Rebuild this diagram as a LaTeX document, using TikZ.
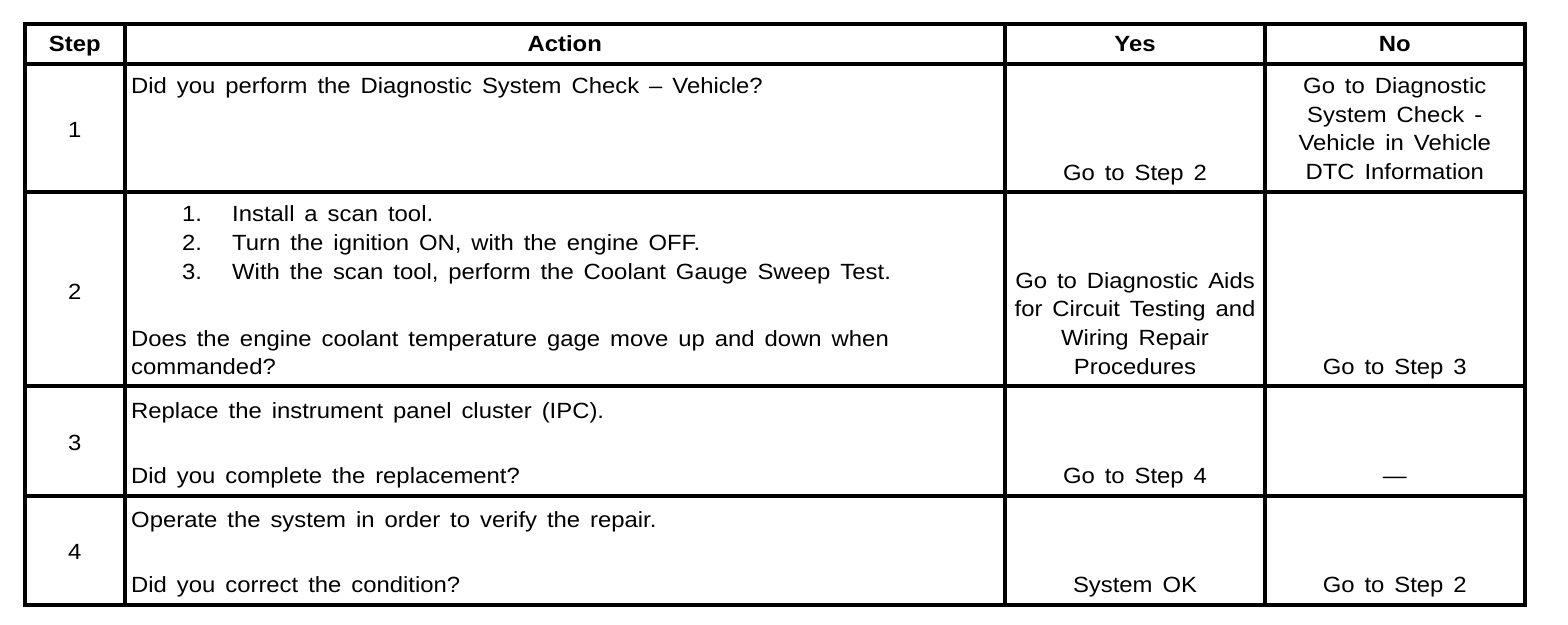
\documentclass[tikz,border=0pt]{standalone}
\usepackage{fontspec}
\setmainfont{Liberation Sans}[FakeStretch=1.085,WordSpace=1.5]
\begin{document}
\begin{tikzpicture}[x=1pt,y=-1pt,
  txt/.style={inner sep=0pt,font=\fontsize{22}{28.6}\selectfont},
  lft/.style={txt,anchor=base west},
  ctr/.style={txt,anchor=base,align=center},
  hdr/.style={txt,anchor=base,font=\fontsize{22}{28.6}\selectfont\bfseries},
  rule/.style={line width=4pt,line cap=rect}]
\useasboundingbox (0,0) rectangle (1568,624);
% grid coordinates
\coordinate (tl) at (25,24);
\coordinate (br) at (1524.5,605);
% horizontal rules
\foreach \y in {63.5,192,386,496}{\draw[rule] (25,\y) -- (1524.5,\y);}
% vertical rules
\foreach \x in {124.5,1005,1265}{\draw[rule] (\x,24) -- (\x,605);}
\draw[rule] (tl) rectangle (br);
% header
\node[hdr] (hstep) at (74.75,51) {Step};
\node[hdr] (hact) at (564.75,51) {Action};
\node[hdr] (hyes) at (1135,51) {Yes};
\node[hdr] (hno) at (1394.75,51) {No};
% step numbers
\node[ctr] (s1) at (74.75,137) {1};
\node[ctr] (s2) at (74.75,299) {2};
\node[ctr] (s3) at (74.75,450) {3};
\node[ctr] (s4) at (74.75,559) {4};
% row 1
\node[lft] (a1) at (131,93) {Did you perform the Diagnostic System Check – Vehicle?};
\node[ctr] (y1) at (1135,180) {Go to Step 2};
\node[ctr] (n1) at (1394.75,179.5) {Go to Diagnostic\\System Check -\\Vehicle in Vehicle\\DTC Information};
% row 2
\node[lft] (l1n) at (182,221) {1.};
\node[lft] (l1t) at (232,221) {Install a scan tool.};
\node[lft] (l2n) at (182,250) {2.};
\node[lft] (l2t) at (232,250) {Turn the ignition ON, with the engine OFF.};
\node[lft] (l3n) at (182,279) {3.};
\node[lft] (l3t) at (232,279) {With the scan tool, perform the Coolant Gauge Sweep Test.};
\node[lft] (a2q) at (131,346) {Does the engine coolant temperature gage move up and down when};
\node[lft] (a2r) at (131,374) {commanded?};
\node[ctr] (y2) at (1135,374) {Go to Diagnostic Aids\\for Circuit Testing and\\Wiring Repair\\Procedures};
\node[ctr] (n2) at (1394.75,374) {Go to Step 3};
% row 3
\node[lft] (a3) at (131,418) {Replace the instrument panel cluster (IPC).};
\node[lft] (a3q) at (131,483) {Did you complete the replacement?};
\node[ctr] (y3) at (1135,483) {Go to Step 4};
\node[ctr] (n3) at (1394.75,483) {—};
% row 4
\node[lft] (a4) at (131,527) {Operate the system in order to verify the repair.};
\node[lft] (a4q) at (131,592) {Did you correct the condition?};
\node[ctr] (y4) at (1135,592) {System OK};
\node[ctr] (n4) at (1394.75,592) {Go to Step 2};
\end{tikzpicture}
\end{document}
